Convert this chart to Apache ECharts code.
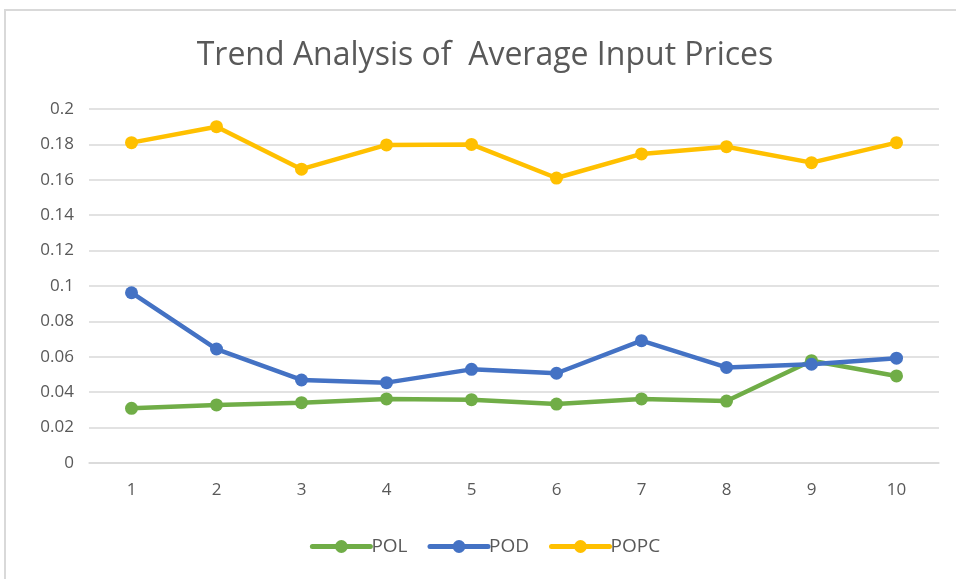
<!DOCTYPE html>
<html>
<head>
<meta charset="utf-8">
<script src="https://cdn.jsdelivr.net/npm/echarts@6/dist/echarts.min.js"></script>
<style>
  html, body { margin: 0; padding: 0; background: #fff; overflow: hidden; }
  #main { position: absolute; left: 4px; top: 9px; width: 960px; height: 570px;
          border-top: 2px solid #d9d9d9; border-left: 2px solid #d9d9d9; box-sizing: border-box; }
</style>
</head>
<body>
<div id="main"></div>
<script>
var categories = ['1', '2', '3', '4', '5', '6', '7', '8', '9', '10'];
var pol = [0.0309, 0.0328, 0.0341, 0.0362, 0.0358, 0.0333, 0.0362, 0.0350, 0.0578, 0.0492];
var pod = [0.0962, 0.0644, 0.0469, 0.0454, 0.0529, 0.0507, 0.0691, 0.0540, 0.0558, 0.0592];
var popc = [0.1810, 0.1900, 0.1660, 0.1797, 0.1800, 0.1610, 0.1746, 0.1787, 0.1697, 0.1810];

drawChart();

function drawChart() {
    var myChart = echarts.init(document.getElementById('main'));
    var textColor = '#595959';
    function line(name, data, color) {
        return {
            name: name,
            type: 'line',
            data: data,
            symbol: 'circle',
            symbolSize: 13,
            lineStyle: { width: 4.5, color: color },
            itemStyle: { color: color },
            emphasis: { disabled: true }
        };
    }
    var option = {
        animation: false,
        title: {
            text: 'Trend Analysis of  Average Input Prices',
            left: 'center',
            top: 24,
            textStyle: { fontFamily: 'Open Sans', fontSize: 32, fontWeight: 'normal', color: textColor }
        },
        legend: {
            bottom: 18,
            left: 'center',
            itemWidth: 58,
            itemHeight: 16,
            itemGap: 20,
            lineStyle: { width: 5, cap: 'round' },
            textStyle: { fontFamily: 'Open Sans', fontSize: 19, color: textColor, padding: [0, 0, 0, -4] },
            data: ['POL', 'POD', 'POPC']
        },
        grid: {
            left: 83,
            right: 25,
            top: 98,
            bottom: 116,
            containLabel: false
        },
        xAxis: {
            type: 'category',
            data: categories,
            boundaryGap: true,
            axisLine: { lineStyle: { color: '#d9d9d9', width: 1.5 } },
            axisTick: { show: false },
            axisLabel: { fontFamily: 'Open Sans', fontSize: 17, color: textColor, margin: 19 }
        },
        yAxis: {
            type: 'value',
            min: 0,
            max: 0.2,
            interval: 0.02,
            axisLine: { show: false },
            axisTick: { show: false },
            splitLine: { lineStyle: { color: '#d9d9d9', width: 1.5 } },
            axisLabel: {
                fontFamily: 'Open Sans', fontSize: 17, color: textColor, margin: 15,
                formatter: function (v) { return String(parseFloat(v.toFixed(2))); }
            }
        },
        series: [
            line('POL', pol, '#70AD47'),
            line('POD', pod, '#4472C4'),
            line('POPC', popc, '#FFC000')
        ]
    };
    myChart.setOption(option);
}
</script>
</body>
</html>
